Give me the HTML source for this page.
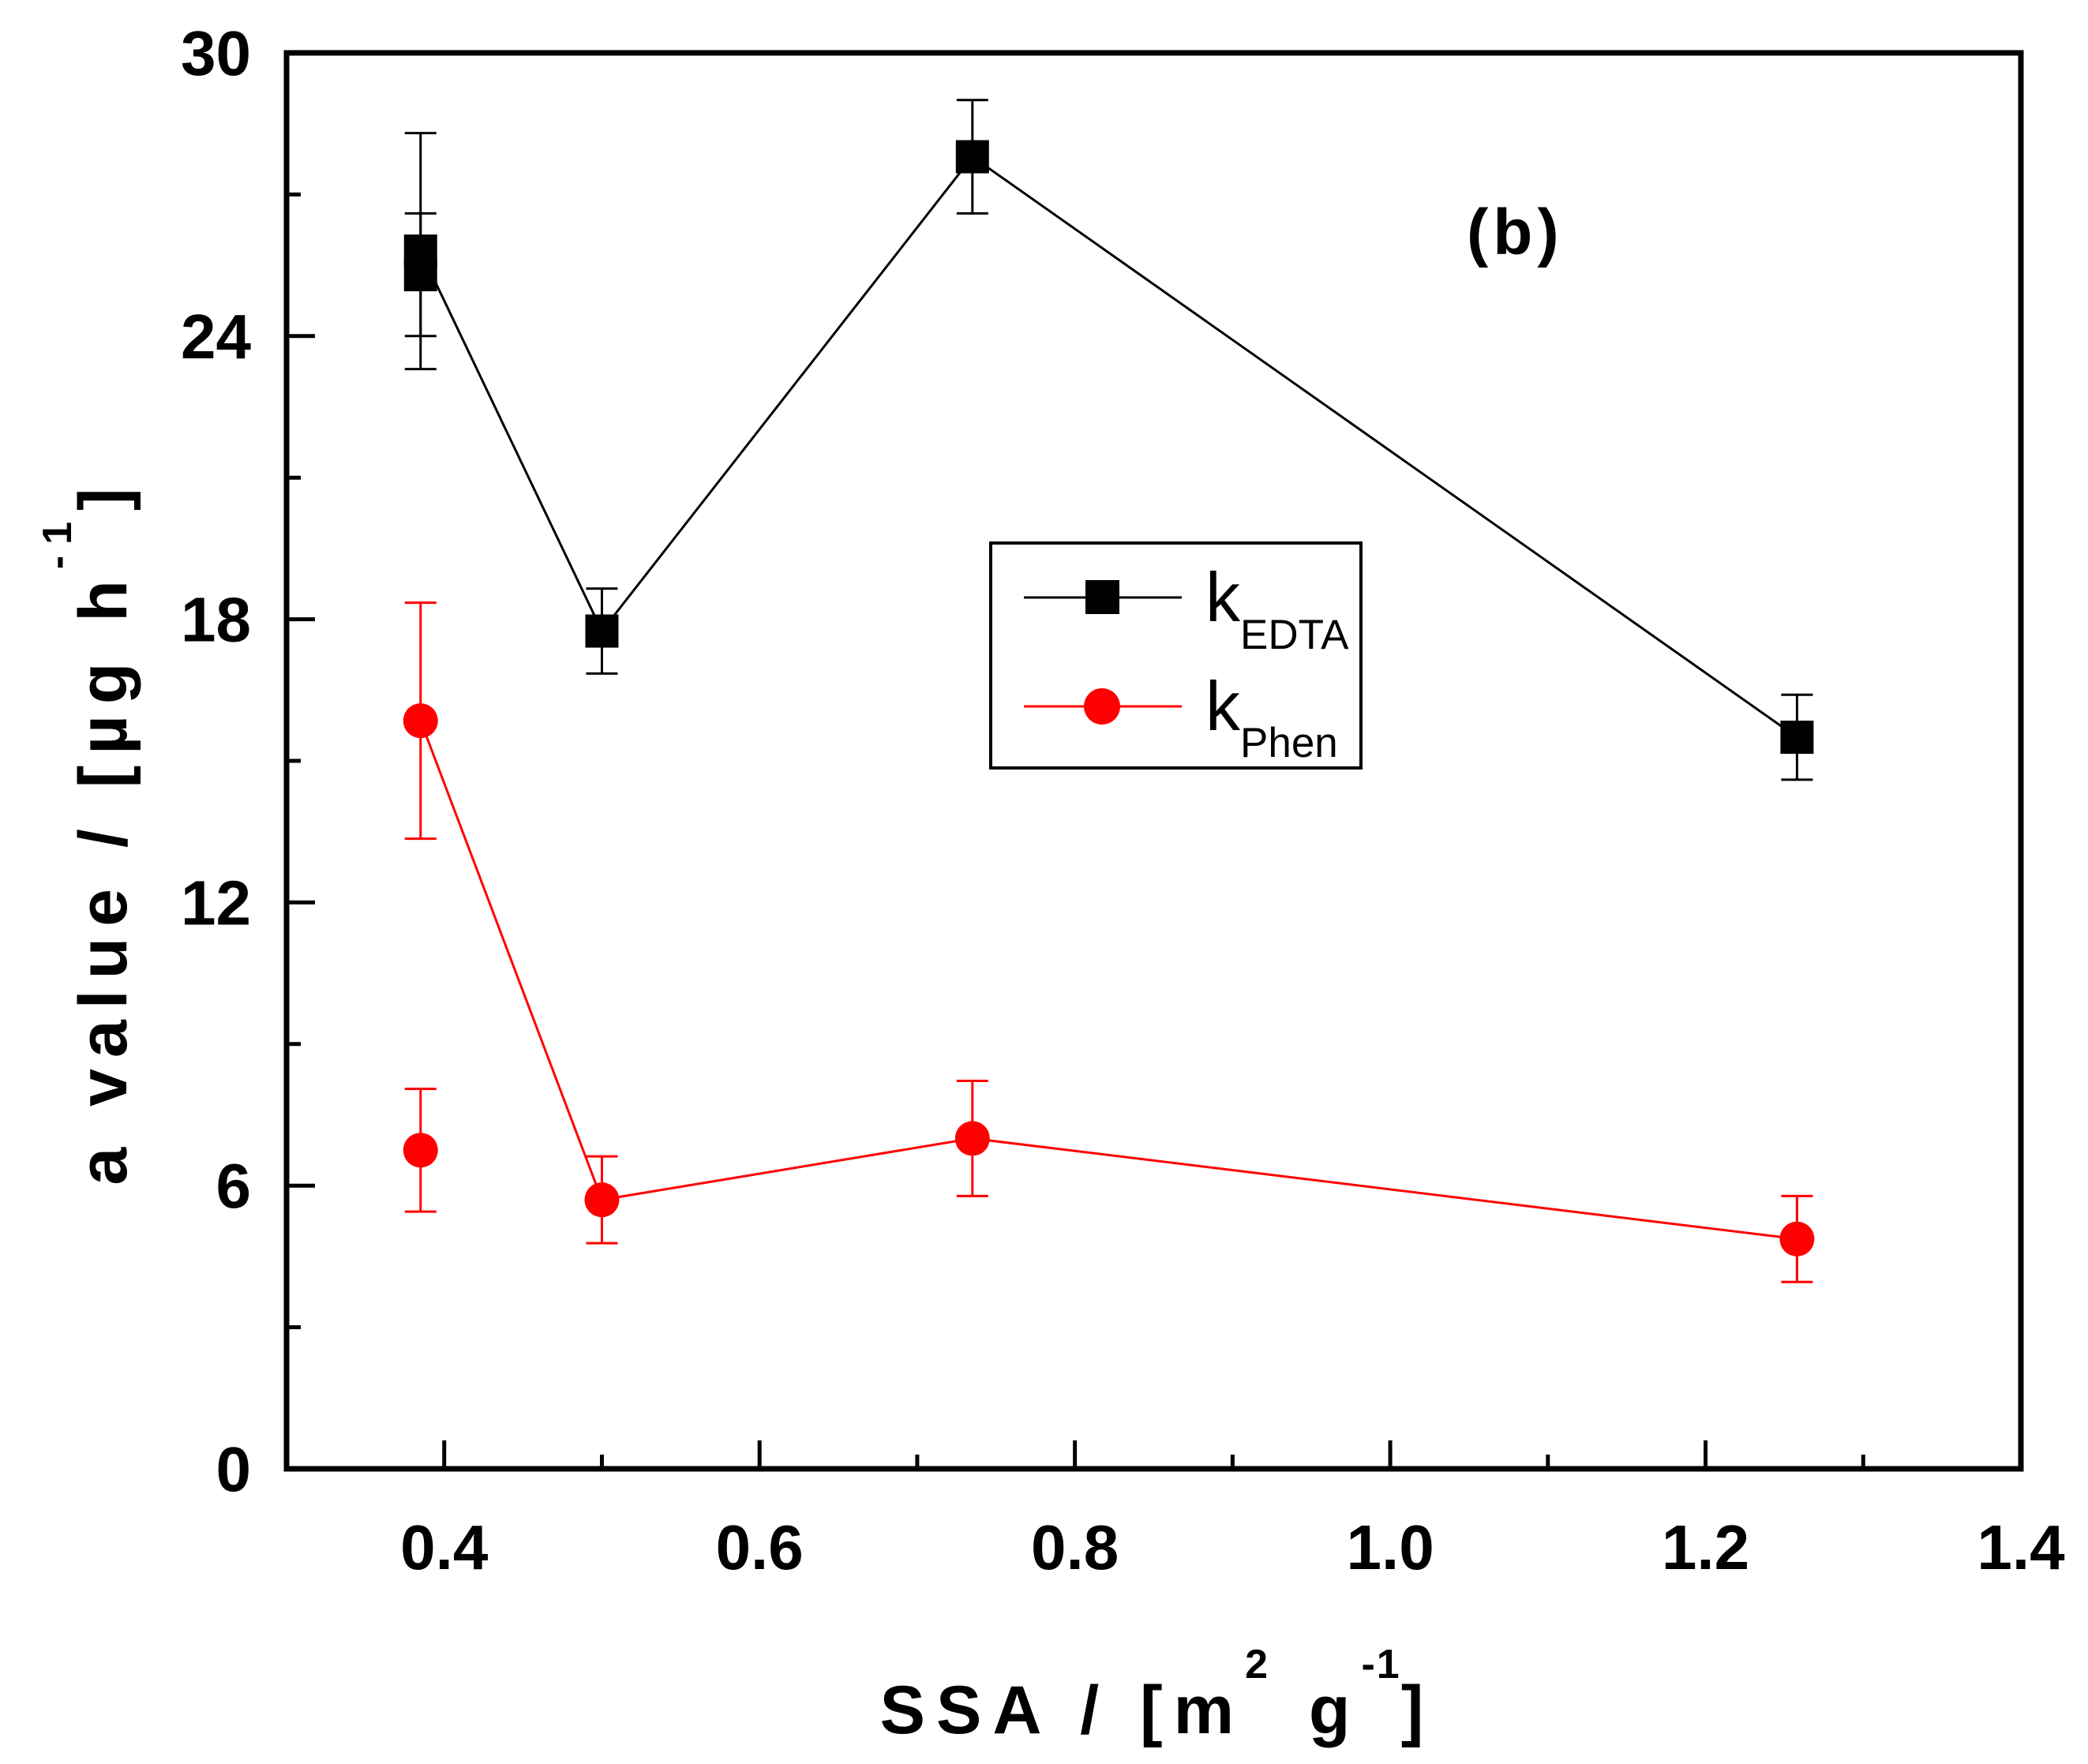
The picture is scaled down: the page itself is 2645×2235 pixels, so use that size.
<!DOCTYPE html>
<html><head><meta charset="utf-8"><style>
html,body{margin:0;padding:0;background:#fff;}
svg{display:block;}
text{font-family:"Liberation Sans",Arial,sans-serif;}
</style></head><body>
<svg id="chart" width="2645" height="2235" viewBox="0 0 2645 2235" xmlns="http://www.w3.org/2000/svg">
<g id="grid-layer"></g>
<g id="data-layer"></g>
<rect x="363" y="67" width="2197" height="1794" fill="none" stroke="#000" stroke-width="7"/>
<text x="1858" y="322" font-size="82" font-weight="bold" letter-spacing="6">(b)</text>
<g>
<rect x="1255" y="688" width="469" height="285" fill="#fff" stroke="#000" stroke-width="4"/>
<g>
<line x1="1297" y1="757" x2="1497" y2="757" stroke="#000" stroke-width="3"/>
<rect x="1375" y="735" width="43" height="43" fill="#000"/>
<text x="1527" y="787" font-size="88">k<tspan font-size="53" dy="35">EDTA</tspan></text>
</g>
<g>
<line x1="1297" y1="895" x2="1497" y2="895" stroke="#f00" stroke-width="3"/>
<circle cx="1396" cy="895" r="23" fill="#f00"/>
<text x="1527" y="925" font-size="88">k<tspan font-size="53" dy="34">Phen</tspan></text>
</g>
</g>
<text x="1466" y="2196" font-size="86" font-weight="bold" text-anchor="middle" letter-spacing="14">SSA / [m<tspan font-size="52" dy="-70">2</tspan><tspan dy="70"> g</tspan><tspan font-size="52" dy="-70" letter-spacing="2">-1</tspan><tspan dy="70">]</tspan></text>
<text transform="translate(160,1053) rotate(-90)" font-size="86" font-weight="bold" text-anchor="middle" letter-spacing="14">a value / [µg h<tspan font-size="52" dy="-70">-1</tspan><tspan dy="70">]</tspan></text>
</svg>
<script>
const xTicks=[0.4,0.6,0.8,1.0,1.2,1.4];
const xTickLabels=["0.4","0.6","0.8","1.0","1.2","1.4"];
const yTicks=[0,6,12,18,24,30];
const yTickLabels=["0","6","12","18","24","30"];
const ssa=[0.385,0.5,0.735,1.258];
const edtaValues=[25.8,17.75,27.8,15.5];
const edtaErrors=[2.5,0.9,1.2,0.9];
const edtaExtraX=[0.385];
const edtaExtraValues=[25.3];
const edtaExtraErrors=[1.3];
const phenValues=[15.85,5.7,7.0,4.87];
const phenErrors=[2.5,0.92,1.22,0.91];
const phenExtraX=[0.385];
const phenExtraValues=[6.75];
const phenExtraErrors=[1.3];

const X0=363,X1=2560,Y0=1861,Y1=67;
const xMin=0.3,xMax=1.4,yMin=0,yMax=30;
function sx(v){return X0+(v-xMin)/(xMax-xMin)*(X1-X0);}
function sy(v){return Y0-(v-yMin)/(yMax-yMin)*(Y0-Y1);}
const NS="http://www.w3.org/2000/svg";
const grid=document.getElementById('grid-layer');
const dl=document.getElementById('data-layer');
function mk(tag,attrs,parent){const e=document.createElementNS(NS,tag);for(const k in attrs)e.setAttribute(k,attrs[k]);parent.appendChild(e);return e;}

for(let i=0;i<xTicks.length;i++){
  const x=sx(xTicks[i]);
  const t=mk('line',{x1:x,y1:Y0,x2:x,y2:Y0-36,stroke:'#000','stroke-width':5},grid);
  
  
  const lb=mk('text',{x:x,y:1988,'font-size':80,'font-weight':'bold','text-anchor':'middle'},grid);
  lb.textContent=xTickLabels[i];
  
  
  const mv=xTicks[i]-0.1;
  if(mv>xMin){
    const m=mk('line',{x1:sx(mv),y1:Y0,x2:sx(mv),y2:Y0-18,stroke:'#000','stroke-width':5},grid);
    
    
  }
}
for(let i=0;i<yTicks.length;i++){
  const y=sy(yTicks[i]);
  const t=mk('line',{x1:X0,y1:y,x2:X0+36,y2:y,stroke:'#000','stroke-width':5},grid);
  
  
  const lb=mk('text',{x:318,y:y+28,'font-size':80,'font-weight':'bold','text-anchor':'end'},grid);
  lb.textContent=yTickLabels[i];
  
  
  if(i<yTicks.length-1){
    const my=sy(yTicks[i]+3);
    const m=mk('line',{x1:X0,y1:my,x2:X0+18,y2:my,stroke:'#000','stroke-width':5},grid);
    
    
  }
}
function errbar(x,v,e,color,name){
  const g=mk('g',{stroke:color,'stroke-width':3},dl);
  
  
  const px=sx(x);
  mk('line',{x1:px,y1:sy(v+e),x2:px,y2:sy(v-e)},g);
  mk('line',{x1:px-20,y1:sy(v+e),x2:px+20,y2:sy(v+e)},g);
  mk('line',{x1:px-20,y1:sy(v-e),x2:px+20,y2:sy(v-e)},g);
}
function line(xs,vs,color,name){
  const p=mk('polyline',{points:xs.map((x,i)=>sx(x)+','+sy(vs[i])).join(' '),fill:'none',stroke:color,'stroke-width':3},dl);
  
  
}
line(ssa,edtaValues,'#000','edta-line');
line(ssa,phenValues,'#f00','phen-line');
for(let i=0;i<ssa.length;i++){errbar(ssa[i],edtaValues[i],edtaErrors[i],'#000','edta-error-bar');}
for(let i=0;i<edtaExtraX.length;i++){errbar(edtaExtraX[i],edtaExtraValues[i],edtaExtraErrors[i],'#000','edta-error-bar');}
for(let i=0;i<ssa.length;i++){errbar(ssa[i],phenValues[i],phenErrors[i],'#f00','phen-error-bar');}
for(let i=0;i<phenExtraX.length;i++){errbar(phenExtraX[i],phenExtraValues[i],phenExtraErrors[i],'#f00','phen-error-bar');}
function sq(x,v){
  const r=mk('rect',{x:sx(x)-21,y:sy(v)-21,width:42,height:42,fill:'#000'},dl);
  
  
}
function ci(x,v){
  const c=mk('circle',{cx:sx(x),cy:sy(v),r:22,fill:'#f00'},dl);
  
  
}
for(let i=0;i<ssa.length;i++)sq(ssa[i],edtaValues[i]);
for(let i=0;i<edtaExtraX.length;i++)sq(edtaExtraX[i],edtaExtraValues[i]);
for(let i=0;i<ssa.length;i++)ci(ssa[i],phenValues[i]);
for(let i=0;i<phenExtraX.length;i++)ci(phenExtraX[i],phenExtraValues[i]);
</script>
</body></html>
